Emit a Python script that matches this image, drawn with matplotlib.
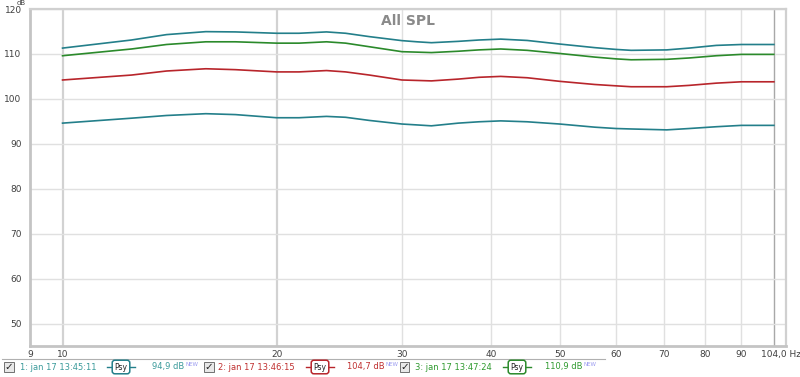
import matplotlib
matplotlib.use("Agg")
import matplotlib.pyplot as plt
from matplotlib.patches import Rectangle
from matplotlib.lines import Line2D

# ---- data ----
freq = [10, 12.5, 14, 15.9, 17.5, 20, 21.5, 23.5, 25, 27, 30, 31.5, 33, 36, 38.5, 41.3, 45,
        50, 56, 60, 63, 70.7, 76, 83, 90, 100]
spl_1 = [94.6, 95.7, 96.3, 96.7, 96.5, 95.8, 95.8, 96.1, 95.9, 95.2, 94.4, 94.2, 94.0, 94.6, 94.9,
         95.1, 94.9, 94.4, 93.7, 93.4, 93.3, 93.1, 93.4, 93.8, 94.1, 94.1]
spl_2 = [104.2, 105.3, 106.2, 106.7, 106.5, 106.0, 106.0, 106.3, 106.0, 105.3, 104.2, 104.1, 104.0,
         104.4, 104.8, 105.0, 104.7, 103.9, 103.2, 102.9, 102.7, 102.7, 103.0, 103.5, 103.8, 103.8]
spl_3 = [109.6, 111.1, 112.1, 112.7, 112.7, 112.4, 112.4, 112.7, 112.4, 111.6, 110.5, 110.4, 110.3,
         110.6, 110.9, 111.1, 110.8, 110.1, 109.3, 108.9, 108.7, 108.8, 109.1, 109.6, 109.9, 109.9]
spl_top = [111.3, 113.1, 114.3, 114.96, 114.9, 114.6, 114.6, 114.9, 114.6, 113.85, 112.96, 112.7,
           112.5, 112.8, 113.1, 113.3, 113.0, 112.2, 111.4, 111.0, 110.8, 110.9, 111.3, 111.9,
           112.1, 112.1]

x_ticks = [9, 10, 20, 30, 40, 50, 60, 70, 80, 90]
x_tick_labels = ["9", "10", "20", "30", "40", "50", "60", "70", "80", "90"]
y_ticks = [50, 60, 70, 80, 90, 100, 110, 120]

legend_names = ["1: jan 17 13:45:11", "2: jan 17 13:46:15", "3: jan 17 13:47:24"]
legend_values = ["94,9 dB", "104,7 dB", "110,9 dB"]

teal = "#237f8a"
red = "#b8252b"
green = "#2b8a2b"
text_teal = "#3a9a9a"
text_red = "#c03030"
text_green = "#2f9a2f"

W, H = 800, 377
fig = plt.figure(figsize=(W / 100, H / 100), dpi=100)
fig.patch.set_facecolor("white")

L, R, T, B = 30, 786, 9, 346
ax = fig.add_axes([L / W, 1 - B / H, (R - L) / W, (B - T) / H])
ax.set_xscale("log")
ax.set_xlim(9, 104)
ax.set_ylim(45, 120)

# grid
for xv in [30, 40, 50, 60, 70, 80, 90]:
    ax.axvline(xv, color="#e0e0e0", lw=1.0, zorder=0)
for xv in [10, 20]:
    ax.axvline(xv, color="#d2d2d2", lw=1.6, zorder=0)
ax.axvline(100, color="#a8a8a8", lw=1.0, zorder=0)
for yv in y_ticks:
    ax.axhline(yv, color="#e0e0e0", lw=1.0, zorder=0)

for ys, c in [(spl_1, teal), (spl_2, red), (spl_3, green), (spl_top, teal)]:
    ax.plot(freq, ys, color=c, lw=1.2, zorder=3, solid_joinstyle="round")

ax.xaxis.set_minor_locator(matplotlib.ticker.NullLocator())
ax.set_xticks(x_ticks)
ax.set_xticklabels(x_tick_labels)
ax.set_yticks(y_ticks)
ax.set_yticklabels([str(v) for v in y_ticks])
ax.tick_params(axis="both", length=0, labelsize=6.5, colors="#404040", pad=3)
ax.tick_params(axis="y", pad=6)

for side in ["left", "bottom"]:
    ax.spines[side].set_color("#c4c4c4")
    ax.spines[side].set_linewidth(2.0)
for side in ["top", "right"]:
    ax.spines[side].set_color("#d0d0d0")
    ax.spines[side].set_linewidth(1.6)

ax.text(0.9935, -0.0115, "104,0 Hz", transform=ax.transAxes, ha="center", va="top",
        fontsize=6.5, color="#404040")
fig.text(21 / W, 1 - 2.6 / H, "dB", ha="center", va="center", fontsize=5, color="#404040")
ax.text(0.5, 0.985, "All SPL", transform=ax.transAxes, ha="center", va="top",
        fontsize=10, fontweight="bold", color="#8a8a8a")

# ---- legend row ----
def fx(px):
    return px / W

def fy(py):
    return 1 - py / H

fig.add_artist(Line2D([fx(2), fx(605)], [fy(358.5), fy(358.5)], color="#b0b0b0", lw=0.8))

items = [
    (8, 20, 121, 152, legend_names[0], legend_values[0], teal, text_teal),
    (208, 218, 320, 347, legend_names[1], legend_values[1], red, text_red),
    (404, 415, 517, 545, legend_names[2], legend_values[2], green, text_green),
]
ycen = 367
fig.canvas.draw()
renderer = fig.canvas.get_renderer()
for cbx, tx, psx, vx, name, val, lc, tc in items:
    fig.add_artist(Rectangle((fx(cbx - 4.5), fy(ycen + 5)), 10 / W, 10 / H,
                             facecolor="#e8e8e8", edgecolor="#707070", lw=0.7))
    fig.text(fx(cbx + 0.5), fy(ycen), "\u2713", ha="center", va="center",
             fontsize=7.5, color="#202020", fontweight="bold")
    fig.text(fx(tx), fy(ycen), name, ha="left", va="center", fontsize=6, color=tc)
    # Psy icon
    fig.add_artist(Line2D([fx(psx - 14), fx(psx - 9)], [fy(ycen), fy(ycen)], color=lc, lw=1.0))
    fig.add_artist(Line2D([fx(psx + 9), fx(psx + 14)], [fy(ycen), fy(ycen)], color=lc, lw=1.0))
    fig.text(fx(psx), fy(ycen), "Psy", ha="center", va="center", fontsize=5.5, color="#202020",
             bbox=dict(boxstyle="round,pad=0.3,rounding_size=0.35", facecolor="white",
                       edgecolor=lc, lw=1.1))
    t = fig.text(fx(vx), fy(ycen), val, ha="left", va="center", fontsize=6, color=tc)
    bb = t.get_window_extent(renderer=renderer)
    fig.text(fx(vx) + (bb.width + 1) / W, fy(ycen - 3), "NEW", ha="left", va="center",
             fontsize=4, color="#9a9af0")

fig.savefig("out.png", dpi=100, facecolor="white")
